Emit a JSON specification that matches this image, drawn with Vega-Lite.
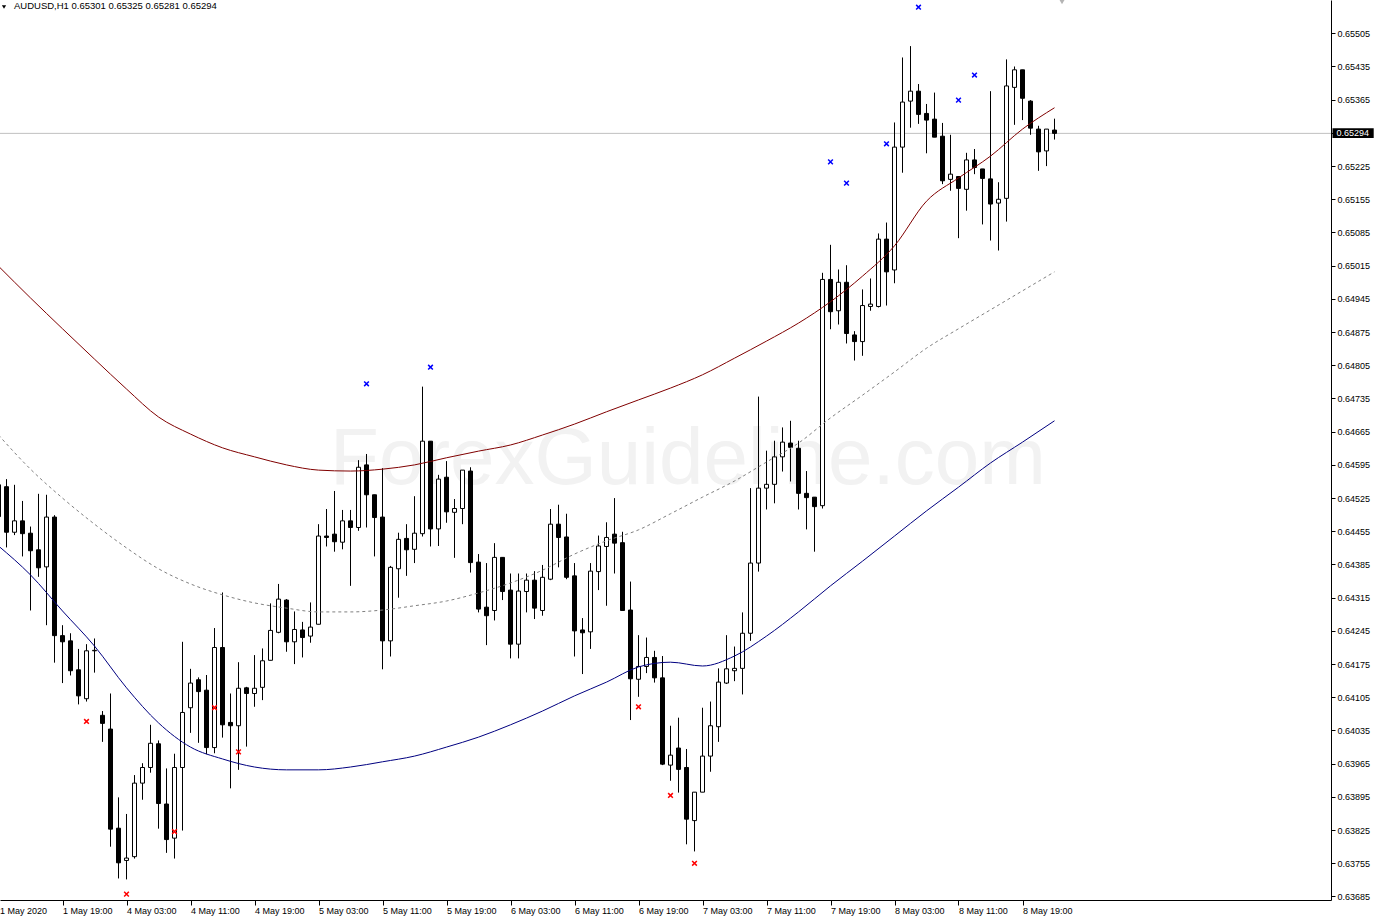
{
"$schema": "https://vega.github.io/schema/vega-lite/v6.json",
"width": 1331,
"height": 900,
"autosize": {"type": "none"},
"padding": {"left": 0, "top": 0, "right": 45, "bottom": 18},
"background": "white",
"config": {"view": {"stroke": null}, "scale": {"continuousPadding": 0}},
"resolve": {"axis": {"x": "independent", "y": "independent"}},
"datasets": {
"candles": [
{"i":0,"o":0.64553,"h":0.64563,"l":0.64458,"c":0.64486},
{"i":1,"o":0.64549,"h":0.64565,"l":0.64421,"c":0.64453},
{"i":2,"o":0.64453,"h":0.64553,"l":0.64447,"c":0.64477},
{"i":3,"o":0.64477,"h":0.64519,"l":0.64402,"c":0.64450},
{"i":4,"o":0.64451,"h":0.64465,"l":0.64288,"c":0.64414},
{"i":5,"o":0.64416,"h":0.64534,"l":0.64359,"c":0.64378},
{"i":6,"o":0.64380,"h":0.64532,"l":0.64257,"c":0.64485},
{"i":7,"o":0.64485,"h":0.64489,"l":0.64178,"c":0.64235},
{"i":8,"o":0.64235,"h":0.64257,"l":0.64135,"c":0.64222},
{"i":9,"o":0.64224,"h":0.64240,"l":0.64151,"c":0.64161},
{"i":10,"o":0.64163,"h":0.64207,"l":0.64090,"c":0.64108},
{"i":11,"o":0.64102,"h":0.64217,"l":0.64096,"c":0.64203},
{"i":12,"o":0.64203,"h":0.64229,"l":0.64157,"c":0.64204},
{"i":13,"o":0.64067,"h":0.64076,"l":0.64011,"c":0.64050},
{"i":14,"o":0.64038,"h":0.64113,"l":0.63790,"c":0.63827},
{"i":15,"o":0.63829,"h":0.63894,"l":0.63723,"c":0.63756},
{"i":16,"o":0.63761,"h":0.63859,"l":0.63721,"c":0.63766},
{"i":17,"o":0.63769,"h":0.63941,"l":0.63765,"c":0.63924},
{"i":18,"o":0.63924,"h":0.63966,"l":0.63889,"c":0.63957},
{"i":19,"o":0.63957,"h":0.64047,"l":0.63946,"c":0.64008},
{"i":20,"o":0.64007,"h":0.64014,"l":0.63828,"c":0.63881},
{"i":21,"o":0.63880,"h":0.63955,"l":0.63777,"c":0.63805},
{"i":22,"o":0.63808,"h":0.63986,"l":0.63765,"c":0.63957},
{"i":23,"o":0.63957,"h":0.64222,"l":0.63824,"c":0.64073},
{"i":24,"o":0.64083,"h":0.64165,"l":0.64030,"c":0.64135},
{"i":25,"o":0.64142,"h":0.64147,"l":0.64009,"c":0.64117},
{"i":26,"o":0.64120,"h":0.64152,"l":0.63985,"c":0.63999},
{"i":27,"o":0.63999,"h":0.64251,"l":0.63987,"c":0.64210},
{"i":28,"o":0.64210,"h":0.64326,"l":0.64020,"c":0.64047},
{"i":29,"o":0.64052,"h":0.64113,"l":0.63913,"c":0.64045},
{"i":30,"o":0.64045,"h":0.64179,"l":0.63952,"c":0.64124},
{"i":31,"o":0.64125,"h":0.64127,"l":0.64001,"c":0.64113},
{"i":32,"o":0.64113,"h":0.64194,"l":0.64085,"c":0.64124},
{"i":33,"o":0.64126,"h":0.64208,"l":0.64099,"c":0.64182},
{"i":34,"o":0.64183,"h":0.64303,"l":0.64183,"c":0.64246},
{"i":35,"o":0.64242,"h":0.64344,"l":0.64240,"c":0.64312},
{"i":36,"o":0.64310,"h":0.64312,"l":0.64201,"c":0.64222},
{"i":37,"o":0.64222,"h":0.64286,"l":0.64175,"c":0.64248},
{"i":38,"o":0.64247,"h":0.64264,"l":0.64189,"c":0.64231},
{"i":39,"o":0.64234,"h":0.64305,"l":0.64220,"c":0.64253},
{"i":40,"o":0.64259,"h":0.64470,"l":0.64259,"c":0.64445},
{"i":41,"o":0.64445,"h":0.64502,"l":0.64423,"c":0.64442},
{"i":42,"o":0.64449,"h":0.64540,"l":0.64412,"c":0.64433},
{"i":43,"o":0.64432,"h":0.64500,"l":0.64417,"c":0.64477},
{"i":44,"o":0.64477,"h":0.64500,"l":0.64340,"c":0.64463},
{"i":45,"o":0.64463,"h":0.64605,"l":0.64456,"c":0.64590},
{"i":46,"o":0.64595,"h":0.64618,"l":0.64463,"c":0.64532},
{"i":47,"o":0.64532,"h":0.64532,"l":0.64402,"c":0.64484},
{"i":48,"o":0.64485,"h":0.64588,"l":0.64164,"c":0.64224},
{"i":49,"o":0.64224,"h":0.64382,"l":0.64191,"c":0.64379},
{"i":50,"o":0.64376,"h":0.64452,"l":0.64315,"c":0.64438},
{"i":51,"o":0.64440,"h":0.64470,"l":0.64361,"c":0.64416},
{"i":52,"o":0.64417,"h":0.64529,"l":0.64388,"c":0.64451},
{"i":53,"o":0.64450,"h":0.64760,"l":0.64444,"c":0.64645},
{"i":54,"o":0.64645,"h":0.64645,"l":0.64423,"c":0.64460},
{"i":55,"o":0.64460,"h":0.64574,"l":0.64424,"c":0.64565},
{"i":56,"o":0.64569,"h":0.64603,"l":0.64473,"c":0.64496},
{"i":57,"o":0.64495,"h":0.64523,"l":0.64399,"c":0.64503},
{"i":58,"o":0.64503,"h":0.64584,"l":0.64470,"c":0.64584},
{"i":59,"o":0.64582,"h":0.64590,"l":0.64368,"c":0.64389},
{"i":60,"o":0.64390,"h":0.64407,"l":0.64284,"c":0.64291},
{"i":61,"o":0.64295,"h":0.64388,"l":0.64215,"c":0.64277},
{"i":62,"o":0.64288,"h":0.64430,"l":0.64267,"c":0.64400},
{"i":63,"o":0.64400,"h":0.64400,"l":0.64310,"c":0.64328},
{"i":64,"o":0.64331,"h":0.64366,"l":0.64187,"c":0.64217},
{"i":65,"o":0.64217,"h":0.64366,"l":0.64187,"c":0.64329},
{"i":66,"o":0.64328,"h":0.64366,"l":0.64284,"c":0.64352},
{"i":67,"o":0.64352,"h":0.64371,"l":0.64270,"c":0.64293},
{"i":68,"o":0.64288,"h":0.64384,"l":0.64277,"c":0.64358},
{"i":69,"o":0.64354,"h":0.64502,"l":0.64352,"c":0.64470},
{"i":70,"o":0.64470,"h":0.64511,"l":0.64379,"c":0.64442},
{"i":71,"o":0.64443,"h":0.64492,"l":0.64354,"c":0.64358},
{"i":72,"o":0.64361,"h":0.64388,"l":0.64191,"c":0.64245},
{"i":73,"o":0.64247,"h":0.64272,"l":0.64154,"c":0.64241},
{"i":74,"o":0.64243,"h":0.64388,"l":0.64207,"c":0.64371},
{"i":75,"o":0.64370,"h":0.64446,"l":0.64331,"c":0.64424},
{"i":76,"o":0.64423,"h":0.64474,"l":0.64298,"c":0.64442},
{"i":77,"o":0.64449,"h":0.64525,"l":0.64366,"c":0.64430},
{"i":78,"o":0.64431,"h":0.64454,"l":0.64288,"c":0.64288},
{"i":79,"o":0.64289,"h":0.64349,"l":0.64057,"c":0.64144},
{"i":80,"o":0.64143,"h":0.64236,"l":0.64106,"c":0.64170},
{"i":81,"o":0.64170,"h":0.64231,"l":0.64156,"c":0.64189},
{"i":82,"o":0.64189,"h":0.64203,"l":0.64136,"c":0.64146},
{"i":83,"o":0.64146,"h":0.64192,"l":0.63962,"c":0.63964},
{"i":84,"o":0.63962,"h":0.64045,"l":0.63929,"c":0.63983},
{"i":85,"o":0.63998,"h":0.64062,"l":0.63904,"c":0.63953},
{"i":86,"o":0.63957,"h":0.63996,"l":0.63795,"c":0.63848},
{"i":87,"o":0.63845,"h":0.63905,"l":0.63780,"c":0.63905},
{"i":88,"o":0.63905,"h":0.64083,"l":0.63905,"c":0.63981},
{"i":89,"o":0.63981,"h":0.64096,"l":0.63948,"c":0.64045},
{"i":90,"o":0.64043,"h":0.64166,"l":0.64011,"c":0.64137},
{"i":91,"o":0.64135,"h":0.64236,"l":0.64133,"c":0.64165},
{"i":92,"o":0.64161,"h":0.64212,"l":0.64139,"c":0.64166},
{"i":93,"o":0.64166,"h":0.64284,"l":0.64111,"c":0.64240},
{"i":94,"o":0.64240,"h":0.64546,"l":0.64224,"c":0.64388},
{"i":95,"o":0.64388,"h":0.64739,"l":0.64370,"c":0.64546},
{"i":96,"o":0.64546,"h":0.64625,"l":0.64501,"c":0.64554},
{"i":97,"o":0.64554,"h":0.64646,"l":0.64514,"c":0.64612},
{"i":98,"o":0.64612,"h":0.64674,"l":0.64581,"c":0.64643},
{"i":99,"o":0.64641,"h":0.64688,"l":0.64560,"c":0.64632},
{"i":100,"o":0.64630,"h":0.64646,"l":0.64501,"c":0.64535},
{"i":101,"o":0.64535,"h":0.64582,"l":0.64459,"c":0.64526},
{"i":102,"o":0.64527,"h":0.64527,"l":0.64412,"c":0.64507},
{"i":103,"o":0.64509,"h":0.65000,"l":0.64503,"c":0.64986},
{"i":104,"o":0.64986,"h":0.65059,"l":0.64881,"c":0.64918},
{"i":105,"o":0.64920,"h":0.65007,"l":0.64891,"c":0.64980},
{"i":106,"o":0.64980,"h":0.65016,"l":0.64851,"c":0.64872},
{"i":107,"o":0.64869,"h":0.64877,"l":0.64815,"c":0.64855},
{"i":108,"o":0.64855,"h":0.64965,"l":0.64825,"c":0.64931},
{"i":109,"o":0.64929,"h":0.64988,"l":0.64920,"c":0.64934},
{"i":110,"o":0.64929,"h":0.65083,"l":0.64927,"c":0.65071},
{"i":111,"o":0.65071,"h":0.65106,"l":0.64931,"c":0.65002},
{"i":112,"o":0.65006,"h":0.65317,"l":0.64978,"c":0.65265},
{"i":113,"o":0.65265,"h":0.65454,"l":0.65211,"c":0.65360},
{"i":114,"o":0.65362,"h":0.65478,"l":0.65306,"c":0.65383},
{"i":115,"o":0.65383,"h":0.65398,"l":0.65314,"c":0.65334},
{"i":116,"o":0.65336,"h":0.65356,"l":0.65252,"c":0.65322},
{"i":117,"o":0.65324,"h":0.65380,"l":0.65286,"c":0.65286},
{"i":118,"o":0.65288,"h":0.65316,"l":0.65187,"c":0.65194},
{"i":119,"o":0.65197,"h":0.65291,"l":0.65173,"c":0.65208},
{"i":120,"o":0.65203,"h":0.65204,"l":0.65073,"c":0.65178},
{"i":121,"o":0.65176,"h":0.65253,"l":0.65131,"c":0.65238},
{"i":122,"o":0.65238,"h":0.65261,"l":0.65208,"c":0.65222},
{"i":123,"o":0.65219,"h":0.65219,"l":0.65102,"c":0.65199},
{"i":124,"o":0.65198,"h":0.65383,"l":0.65068,"c":0.65145},
{"i":125,"o":0.65147,"h":0.65191,"l":0.65047,"c":0.65155},
{"i":126,"o":0.65157,"h":0.65450,"l":0.65108,"c":0.65394},
{"i":127,"o":0.65391,"h":0.65435,"l":0.65312,"c":0.65428},
{"i":128,"o":0.65428,"h":0.65428,"l":0.65322,"c":0.65368},
{"i":129,"o":0.65362,"h":0.65364,"l":0.65291,"c":0.65305},
{"i":130,"o":0.65303,"h":0.65310,"l":0.65215,"c":0.65255},
{"i":131,"o":0.65257,"h":0.65303,"l":0.65225,"c":0.65303},
{"i":132,"o":0.65301,"h":0.65325,"l":0.65281,"c":0.65294}
],
"bands": [
{"i":0,"up":0.65014,"mid":0.64658,"lo":0.64424},
{"i":4,"up":0.64947,"mid":0.64586,"lo":0.64363},
{"i":8,"up":0.64882,"mid":0.64525,"lo":0.64287},
{"i":12,"up":0.64818,"mid":0.64470,"lo":0.64213},
{"i":16,"up":0.64755,"mid":0.64420,"lo":0.64125},
{"i":20,"up":0.64696,"mid":0.64376,"lo":0.64051},
{"i":24,"up":0.64660,"mid":0.64344,"lo":0.64000},
{"i":28,"up":0.64631,"mid":0.64321,"lo":0.63975},
{"i":32,"up":0.64612,"mid":0.64304,"lo":0.63958},
{"i":36,"up":0.64595,"mid":0.64293,"lo":0.63952},
{"i":40,"up":0.64584,"mid":0.64285,"lo":0.63952},
{"i":44,"up":0.64582,"mid":0.64285,"lo":0.63958},
{"i":48,"up":0.64586,"mid":0.64289,"lo":0.63969},
{"i":52,"up":0.64595,"mid":0.64298,"lo":0.63981},
{"i":56,"up":0.64610,"mid":0.64308,"lo":0.64000},
{"i":60,"up":0.64624,"mid":0.64325,"lo":0.64021},
{"i":64,"up":0.64637,"mid":0.64346,"lo":0.64047},
{"i":68,"up":0.64658,"mid":0.64373,"lo":0.64076},
{"i":72,"up":0.64681,"mid":0.64407,"lo":0.64108},
{"i":76,"up":0.64707,"mid":0.64435,"lo":0.64137},
{"i":80,"up":0.64732,"mid":0.64458,"lo":0.64169},
{"i":84,"up":0.64757,"mid":0.64492,"lo":0.64179},
{"i":88,"up":0.64785,"mid":0.64527,"lo":0.64171},
{"i":92,"up":0.64820,"mid":0.64561,"lo":0.64192},
{"i":96,"up":0.64856,"mid":0.64601,"lo":0.64234},
{"i":100,"up":0.64894,"mid":0.64641,"lo":0.64285},
{"i":104,"up":0.64939,"mid":0.64694,"lo":0.64340},
{"i":108,"up":0.64993,"mid":0.64742,"lo":0.64392},
{"i":112,"up":0.65057,"mid":0.64791,"lo":0.64445},
{"i":116,"up":0.65151,"mid":0.64841,"lo":0.64498},
{"i":120,"up":0.65200,"mid":0.64882,"lo":0.64548},
{"i":124,"up":0.65246,"mid":0.64922,"lo":0.64599},
{"i":128,"up":0.65303,"mid":0.64962,"lo":0.64643},
{"i":132,"up":0.65348,"mid":0.65002,"lo":0.64688}
],
"signals": [
{"i":11,"p":0.64054,"kind":"down"},
{"i":16,"p":0.63690,"kind":"down"},
{"i":22,"p":0.63822,"kind":"down"},
{"i":27,"p":0.64083,"kind":"down"},
{"i":30,"p":0.63990,"kind":"down"},
{"i":80,"p":0.64085,"kind":"down"},
{"i":84,"p":0.63898,"kind":"down"},
{"i":87,"p":0.63755,"kind":"down"},
{"i":46,"p":0.64766,"kind":"up"},
{"i":54,"p":0.64801,"kind":"up"},
{"i":104,"p":0.65234,"kind":"up"},
{"i":106,"p":0.65189,"kind":"up"},
{"i":111,"p":0.65272,"kind":"up"},
{"i":115,"p":0.65560,"kind":"up"},
{"i":120,"p":0.65364,"kind":"up"},
{"i":122,"p":0.65417,"kind":"up"}
]
},
"layer": [
{
"data": {"values": [{"t": "ForexGuideline.com"}]},
"mark": {"type": "text", "font": "Liberation Sans", "fontSize": 80, "color": "#f2f2f2", "align": "center", "baseline": "middle"},
"encoding": {
"x": {"datum": 86.19, "type": "quantitative", "axis": null},
"y": {"datum": 0.64605, "type": "quantitative", "axis": null},
"text": {"field": "t"}
}
},
{
"data": {"values": [{"p": 0.65294}]},
"mark": {"type": "rule", "color": "#c0c0c0", "strokeWidth": 1},
"encoding": {"y": {"field": "p", "type": "quantitative", "axis": null}}
},
{
"data": {"name": "candles"},
"mark": {"type": "rule", "color": "black", "strokeWidth": 1},
"encoding": {
"x": {"field": "i", "type": "quantitative", "scale": {"domain": [0.1875, 166.5625], "nice": false, "zero": false, "padding": 0},
"axis": {"orient": "bottom", "values": [0,8,16,24,32,40,48,56,64,72,80,88,96,104,112,120,128],
"labelExpr": "['1 May 2020','1 May 19:00','4 May 03:00','4 May 11:00','4 May 19:00','5 May 03:00','5 May 11:00','5 May 19:00','6 May 03:00','6 May 11:00','6 May 19:00','7 May 03:00','7 May 11:00','7 May 19:00','8 May 03:00','8 May 11:00','8 May 19:00'][datum.value/8]",
"labelAlign": "left", "labelBaseline": "top", "labelPadding": 1, "labelDx": 1, "tickSize": 5, "tickColor": "black", "domainColor": "black", "labelColor": "black", "labelFont": "Liberation Sans", "labelFontSize": 9, "labelOverlap": false, "labelFlush": false, "labelBound": false, "grid": false, "title": null}},
"y": {"field": "l", "type": "quantitative", "scale": {"domain": [0.636776, 0.655752], "nice": false, "zero": false, "padding": 0},
"axis": {"orient": "right", "values": [0.63685,0.63755,0.63825,0.63895,0.63965,0.64035,0.64105,0.64175,0.64245,0.64315,0.64385,0.64455,0.64525,0.64595,0.64665,0.64735,0.64805,0.64875,0.64945,0.65015,0.65085,0.65155,0.65225,0.65294,0.65365,0.65435,0.65505],
"format": ".5f", "tickSize": 4, "labelPadding": 2, "tickColor": "black", "domainColor": "black", "labelColor": "black",
"labelFont": "Liberation Sans", "labelFontSize": 9, "labelOverlap": false, "labelFlush": false, "labelBound": false, "grid": false, "title": null}},
"y2": {"field": "h"}
}
},
{
"data": {"name": "candles"},
"mark": {"type": "bar", "size": 4, "stroke": "black", "strokeWidth": 1, "orient": "vertical"},
"encoding": {
"x": {"field": "i", "type": "quantitative", "axis": null},
"y": {"field": "o", "type": "quantitative", "axis": null},
"y2": {"field": "c"},
"fill": {"condition": {"test": "datum.c > datum.o", "value": "white"}, "value": "black"}
}
},
{
"data": {"name": "bands"},
"mark": {"type": "line", "color": "#800000", "strokeWidth": 1, "interpolate": "monotone"},
"encoding": {
"x": {"field": "i", "type": "quantitative", "axis": null},
"y": {"field": "up", "type": "quantitative", "axis": null}
}
},
{
"data": {"name": "bands"},
"mark": {"type": "line", "color": "#808080", "strokeWidth": 1, "strokeDash": [3, 3], "interpolate": "monotone"},
"encoding": {
"x": {"field": "i", "type": "quantitative", "axis": null},
"y": {"field": "mid", "type": "quantitative", "axis": null}
}
},
{
"data": {"name": "bands"},
"mark": {"type": "line", "color": "#000080", "strokeWidth": 1, "interpolate": "monotone"},
"encoding": {
"x": {"field": "i", "type": "quantitative", "axis": null},
"y": {"field": "lo", "type": "quantitative", "axis": null}
}
},
{
"data": {"name": "signals"},
"mark": {"type": "point", "shape": "M-1,-1L1,1M1,-1L-1,1", "filled": false, "size": 22, "strokeWidth": 1.5, "opacity": 1},
"encoding": {
"x": {"field": "i", "type": "quantitative", "axis": null},
"y": {"field": "p", "type": "quantitative", "axis": null},
"color": {"field": "kind", "type": "nominal", "scale": {"domain": ["down", "up"], "range": ["#ff0000", "#0000ff"]}, "legend": null}
}
},
{
"data": {"values": [{"p": 0.65294}]},
"mark": {"type": "rect", "color": "black"},
"encoding": {
"x": {"datum": 166.75, "type": "quantitative", "axis": null},
"x2": {"datum": 171.9},
"y": {"datum": 0.65305, "type": "quantitative", "axis": null},
"y2": {"datum": 0.65284}
}
},
{
"data": {"values": [{"p": 0.65294, "t": "0.65294"}]},
"mark": {"type": "text", "font": "Liberation Sans", "fontSize": 9, "color": "white", "align": "left", "baseline": "middle"},
"encoding": {
"x": {"datum": 167.25, "type": "quantitative", "axis": null},
"y": {"field": "p", "type": "quantitative", "axis": null},
"text": {"field": "t"}
}
},
{
"data": {"values": [{"t": "1 May 2020"}]},
"mark": {"type": "text", "font": "Liberation Sans", "fontSize": 9, "color": "black", "align": "left", "baseline": "top"},
"encoding": {
"x": {"datum": 0.1875, "type": "quantitative", "axis": null},
"y": {"datum": 0.63663, "type": "quantitative", "axis": null},
"text": {"field": "t"}
}
},
{
"data": {"values": [{"t": "AUDUSD,H1  0.65301 0.65325 0.65281 0.65294"}]},
"mark": {"type": "text", "font": "Liberation Sans", "fontSize": 9.5, "color": "black", "align": "left", "baseline": "alphabetic"},
"encoding": {
"x": {"datum": 1.9375, "type": "quantitative", "axis": null},
"y": {"datum": 0.655562, "type": "quantitative", "axis": null},
"text": {"field": "t"}
}
},
{
"data": {"values": [{"s": "menu"}]},
"mark": {"type": "point", "shape": "triangle-down", "filled": true, "color": "black", "size": 18, "opacity": 1},
"encoding": {
"x": {"datum": 0.6875, "type": "quantitative", "axis": null},
"y": {"datum": 0.655604, "type": "quantitative", "axis": null}
}
},
{
"data": {"values": [{"s": "shift"}]},
"mark": {"type": "point", "shape": "triangle-down", "filled": true, "color": "#b4b4b4", "size": 40, "opacity": 1},
"encoding": {
"x": {"datum": 132.94, "type": "quantitative", "axis": null},
"y": {"datum": 0.65572, "type": "quantitative", "axis": null}
}
}
]
}
